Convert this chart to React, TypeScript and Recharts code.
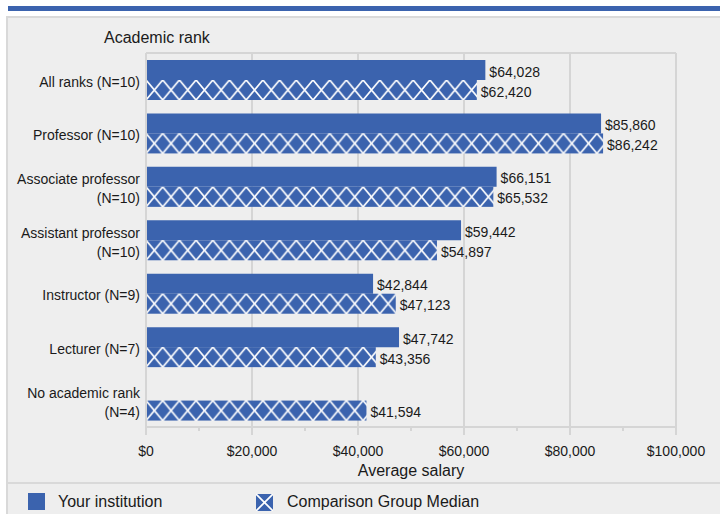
import React from 'react';
import { BarChart, Bar, XAxis, YAxis, CartesianGrid, LabelList } from 'recharts';

const categories = [
  'All ranks (N=10)',
  'Professor (N=10)',
  'Associate professor\n(N=10)',
  'Assistant professor\n(N=10)',
  'Instructor (N=9)',
  'Lecturer (N=7)',
  'No academic rank\n(N=4)',
];
const yourInstitution = [64028, 85860, 66151, 59442, 42844, 47742, null];
const comparisonMedian = [62420, 86242, 65532, 54897, 47123, 43356, 41594];
const majorTicks = [0, 20000, 40000, 60000, 80000, 100000];
const allTicks = [0, 10000, 20000, 30000, 40000, 50000, 60000, 70000, 80000, 90000, 100000];
const DOMAIN_MAX = 100000;

const BLUE = '#3b63ae';
const GRID = '#d5d5d5';
const TEXT = '#1a1a1a';
const FONT = 'Arial, "Liberation Sans", sans-serif';

const data = categories.map((c, i) => ({
  rank: c,
  your: yourInstitution[i],
  comp: comparisonMedian[i],
}));

const fmt = (v: any) => (v == null ? '' : '$' + Number(v).toLocaleString('en-US'));

const RankTick = (props: any) => {
  const { x, y, payload } = props;
  const lines = String(payload.value).split('\n');
  const lh = 19;
  const startY = y + 2 - ((lines.length - 1) * lh) / 2;
  return (
    <text x={x} y={startY} textAnchor="end" fontSize={14} fill={TEXT} fontFamily={FONT} dominantBaseline="central">
      {lines.map((l, i) => (
        <tspan key={i} x={x} dy={i === 0 ? 0 : lh}>
          {l}
        </tspan>
      ))}
    </text>
  );
};

const SalaryTick = (props: any) => {
  const { x, y, payload } = props;
  const major = majorTicks.includes(payload.value);
  return (
    <g>
      <line x1={x} x2={x} y1={y} y2={y + (major ? 8 : 4)} stroke={GRID} strokeWidth={2} />
      {major && (
        <text x={x} y={y + 23.5} textAnchor="middle" fontSize={14} fill={TEXT} fontFamily={FONT} dominantBaseline="central">
          {fmt(payload.value)}
        </text>
      )}
    </g>
  );
};

const ValueLabel = (props: any) => {
  const { x, y, width, height, value } = props;
  if (value == null) return null;
  return (
    <text
      x={Number(x) + Number(width) + 4}
      y={Number(y) + Number(height) / 2 + 1.5}
      fontSize={14}
      fill={TEXT}
      fontFamily={FONT}
      dominantBaseline="central"
    >
      {fmt(value)}
    </text>
  );
};

const CELL = 16.7;

const HatchBar = (props: any) => {
  const { x, y, width, height, index } = props;
  if (!width || width <= 0) return null;
  const id = `hatch-${index}`;
  return (
    <g>
      <defs>
        <pattern id={id} patternUnits="userSpaceOnUse" x={x} y={y} width={CELL} height={height}>
          <rect x={0} y={0} width={CELL} height={height} fill={BLUE} />
          <path d={`M0,0L${CELL},${height}M0,${height}L${CELL},0`} stroke="#ffffff" strokeWidth={1.7} />
        </pattern>
      </defs>
      <rect x={x} y={y} width={width} height={height} fill={`url(#${id})`} />
    </g>
  );
};

export default function App() {
  return (
    <div style={{ position: 'absolute', left: 0, top: 0, width: 720, height: 514, background: '#ffffff', overflow: 'hidden', fontFamily: FONT }}>
      <div style={{ position: 'absolute', left: 8, top: 6, width: 712, height: 5, background: BLUE }} />
      <div
        style={{
          position: 'absolute',
          left: 6,
          top: 16,
          width: 720,
          height: 510,
          background: '#eeeeee',
          borderLeft: '2px solid #d9d9d9',
          borderTop: '2px solid #d9d9d9',
        }}
      />
      <div style={{ position: 'absolute', left: 8, top: 482, width: 712, height: 2, background: '#d9d9d9' }} />
      <div style={{ position: 'absolute', left: 104, top: 28, fontSize: 16, color: TEXT, lineHeight: '20px' }}>Academic rank</div>
      <div style={{ position: 'absolute', left: 0, top: 0 }}>
        <BarChart
          width={720}
          height={514}
          data={data}
          layout="vertical"
          margin={{ top: 53, right: 44, left: 0, bottom: 37 }}
          barSize={20}
          barGap={0}
        >
          <CartesianGrid
            stroke={GRID}
            strokeWidth={2}
            verticalCoordinatesGenerator={({ offset }: any) =>
              majorTicks.map((t) => offset.left + (offset.width * t) / DOMAIN_MAX)
            }
            horizontalCoordinatesGenerator={({ offset }: any) => [offset.top]}
          />
          <XAxis
            type="number"
            domain={[0, DOMAIN_MAX]}
            ticks={allTicks}
            interval={0}
            height={50}
            tickSize={0}
            tickMargin={0}
            tickLine={false}
            axisLine={{ stroke: GRID, strokeWidth: 2 }}
            tick={<SalaryTick />}
            label={{ value: 'Average salary', position: 'insideBottom', offset: 1, fontSize: 16, fill: TEXT, fontFamily: FONT }}
          />
          <YAxis
            type="category"
            dataKey="rank"
            width={146}
            tickLine={false}
            tickSize={0}
            tickMargin={6}
            interval={0}
            axisLine={{ stroke: GRID, strokeWidth: 2 }}
            tick={<RankTick />}
          />
          <Bar dataKey="your" fill={BLUE} isAnimationActive={false}>
            <LabelList dataKey="your" content={<ValueLabel />} />
          </Bar>
          <Bar dataKey="comp" fill={BLUE} shape={<HatchBar />} isAnimationActive={false}>
            <LabelList dataKey="comp" content={<ValueLabel />} />
          </Bar>
        </BarChart>
      </div>
      <div style={{ position: 'absolute', left: 28, top: 493, width: 17, height: 17, background: BLUE }} />
      <div style={{ position: 'absolute', left: 58, top: 492, fontSize: 16, color: TEXT, lineHeight: '20px' }}>Your institution</div>
      <svg style={{ position: 'absolute', left: 256, top: 494 }} width={17} height={17}>
        <rect x={0} y={0} width={17} height={17} fill={BLUE} />
        <path d="M0,0L17,17M0,17L17,0" stroke="#ffffff" strokeWidth={1.7} />
      </svg>
      <div style={{ position: 'absolute', left: 287, top: 492, fontSize: 16, color: TEXT, lineHeight: '20px' }}>Comparison Group Median</div>
    </div>
  );
}
